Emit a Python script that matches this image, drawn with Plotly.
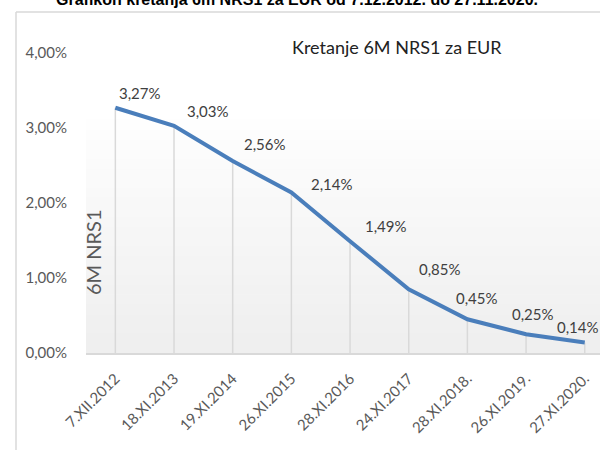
import plotly.graph_objects as go

categories = ["7.XII.2012", "18.XI.2013", "19.XI.2014", "26.XI.2015", "28.XI.2016",
              "24.XI.2017", "28.XI.2018.", "26.XI.2019.", "27.XI.2020."]
values = [3.27, 3.03, 2.56, 2.14, 1.49, 0.85, 0.45, 0.25, 0.14]
value_labels = ["3,27%", "3,03%", "2,56%", "2,14%", "1,49%", "0,85%", "0,45%", "0,25%", "0,14%"]
y_tickvals = [0, 1, 2, 3, 4]
y_ticktext = ["0,00%", "1,00%", "2,00%", "3,00%", "4,00%"]

chart_title = "Kretanje 6M NRS1 za EUR"
page_title = "Grafikon kretanja 6m NRS1 za EUR od 7.12.2012. do 27.11.2020."
y_title = "6M NRS1"

# style: label offsets (px) relative to each point
label_dx = [24.5, 34, 32, 41, 35.5, 31.5, 9.5, 7, -6.5]
label_dy = [15, 15, 17, 8.5, 15, 20, 21, 20, 16]

W, H = 600, 450
L, R, T, B = 86, 0, 53, 97
PW, PH = W - L - R, H - T - B

def px(x):
    return (x - L) / PW

def py(y):
    return (H - B - y) / PH

TXT = "#595959"
GRID = "#d9d9d9"
FONT = "Lato"

fig = go.Figure()

# drop lines
fig.add_trace(go.Scatter(
    x=categories, y=values, mode="markers",
    marker=dict(size=0.1, color="rgba(0,0,0,0)"),
    error_y=dict(type="data", symmetric=False, array=[0] * len(values),
                 arrayminus=values, thickness=1.5, width=0, color=GRID),
    hoverinfo="skip", showlegend=False,
))
# main line
fig.add_trace(go.Scatter(
    x=categories, y=values, mode="lines",
    line=dict(color="#4a7ebb", width=4),
    showlegend=False,
))

# gradient panel
shapes = []
n = 24
top = py(120)
for i in range(n):
    y0 = top * i / n
    y1 = top * (i + 1) / n
    t = i / (n - 1)
    c = int(239 + (254 - 239) * t)
    shapes.append(dict(type="rect", xref="x domain", yref="y domain",
                       x0=0, x1=1, y0=y0, y1=y1 + 0.002,
                       fillcolor=f"rgb({c},{c},{c})", line=dict(width=0),
                       layer="below"))
# outer frame
shapes.append(dict(type="line", xref="paper", yref="paper",
                   x0=px(16), x1=px(16), y0=py(12), y1=py(452),
                   line=dict(color=GRID, width=1.5)))
shapes.append(dict(type="line", xref="paper", yref="paper",
                   x0=px(16), x1=px(602), y0=py(12), y1=py(12),
                   line=dict(color=GRID, width=1.5)))

annotations = []
for c, v, lab, dx, dy in zip(categories, values, value_labels, label_dx, label_dy):
    annotations.append(dict(x=c, y=v, xref="x", yref="y", text=lab,
                            showarrow=False, xanchor="center", yanchor="middle",
                            xshift=dx, yshift=dy,
                            font=dict(family=FONT, size=15, color="#404040")))
annotations.append(dict(x=px(397), y=py(47), xref="paper", yref="paper",
                        text=chart_title, showarrow=False,
                        xanchor="center", yanchor="middle",
                        font=dict(family=FONT, size=18, color="#222222")))
annotations.append(dict(x=px(297), y=py(10), xref="paper", yref="paper",
                        text="<b>" + page_title + "</b>", showarrow=False,
                        xanchor="center", yanchor="bottom",
                        font=dict(family="Liberation Sans", size=16, color="#000000")))
annotations.append(dict(x=px(93), y=py(252), xref="paper", yref="paper",
                        text=y_title, showarrow=False, textangle=-90,
                        xanchor="center", yanchor="middle",
                        font=dict(family=FONT, size=20, color=TXT)))

fig.update_layout(
    width=W, height=H,
    margin=dict(l=L, r=R, t=T, b=B, pad=0),
    paper_bgcolor="white", plot_bgcolor="white",
    shapes=shapes, annotations=annotations,
    showlegend=False,
    xaxis=dict(type="category", range=[-0.5, 8.26], showgrid=False,
               showline=True, linecolor=GRID, linewidth=2,
               tickangle=-45, tickfont=dict(family=FONT, size=15, color=TXT),
               ticklabelstandoff=9,
               ticks="", zeroline=False),
    yaxis=dict(range=[0, 4], tickvals=y_tickvals, ticktext=y_ticktext,
               showgrid=False, zeroline=False, showline=False,
               ticklabelstandoff=18,
               tickfont=dict(family=FONT, size=15, color=TXT)),
)

fig.write_html("out.html", config={"displayModeBar": False},
               post_script="document.body.style.margin='0';document.body.style.overflow='hidden';")
